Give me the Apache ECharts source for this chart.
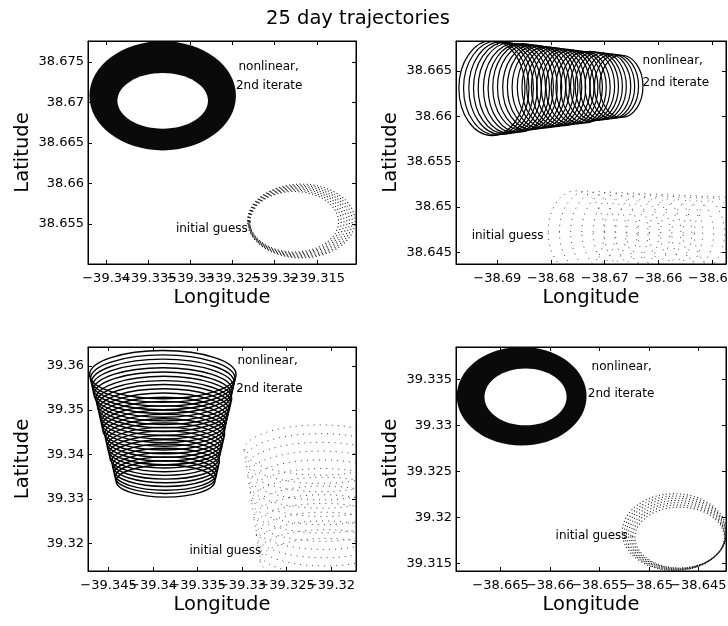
<!DOCTYPE html>
<html>
<head>
<meta charset="utf-8">
<script src="https://cdn.jsdelivr.net/npm/echarts@6/dist/echarts.min.js"></script>
<style>
  html, body { margin: 0; padding: 0; background: #fff; }
  #chart { width: 728px; height: 626px; }
</style>
</head>
<body>
<div id="chart"></div>
<script>
const FONT = '"DejaVu Sans", sans-serif';

// axis ranges [min, max] for the four panels
const p1XRange = [-39.34217, -39.31034];
const p1YRange = [38.65008, 38.67758];
const p2XRange = [-38.6977, -38.6474];
const p2YRange = [38.6437, 38.6683];
const p3XRange = [-39.34731, -39.31719];
const p3YRange = [39.31373, 39.36423];
const p4XRange = [-38.6695, -38.6422];
const p4YRange = [39.3142, 39.3385];

// tick labels
const p1XTicks = [-39.34, -39.335, -39.33, -39.325, -39.32, -39.315];
const p1YTicks = [38.655, 38.66, 38.665, 38.67, 38.675];
const p2XTicks = [-38.69, -38.68, -38.67, -38.66, -38.65];
const p2YTicks = [38.645, 38.65, 38.655, 38.66, 38.665];
const p3XTicks = [-39.345, -39.34, -39.335, -39.33, -39.325, -39.32];
const p3YTicks = [39.32, 39.33, 39.34, 39.35, 39.36];
const p4XTicks = [-38.665, -38.66, -38.655, -38.65, -38.645];
const p4YTicks = [39.315, 39.32, 39.325, 39.33, 39.335];

// nonlinear 2nd iterate: thick bands (outer ellipse, inner ellipse), [lon, lat, rLon, rLat]
const p1BandOuter = [-39.3333, 38.67082, 0.0087, 0.00673];
const p1BandInner = [-39.3333, 38.6702, 0.00538, 0.00344];
const p4BandOuter = [-38.66286, 39.33317, 0.00656, 0.00535];
const p4BandInner = [-38.66247, 39.33308, 0.00415, 0.00308];

// nonlinear 2nd iterate: single orbits, [lon, lat, rLon, rLat]
const p2Orbits = [
  [-38.6910, 38.6631, 0.00616, 0.00523], [-38.6902, 38.6631, 0.00609, 0.00517],
  [-38.6893, 38.6631, 0.00601, 0.00511], [-38.6885, 38.6631, 0.00594, 0.00504],
  [-38.6877, 38.6631, 0.00587, 0.00498], [-38.6868, 38.6631, 0.00579, 0.00492],
  [-38.6860, 38.6631, 0.00572, 0.00486], [-38.6852, 38.6632, 0.00565, 0.00480],
  [-38.6844, 38.6632, 0.00557, 0.00473], [-38.6835, 38.6632, 0.00550, 0.00467],
  [-38.6827, 38.6632, 0.00543, 0.00461], [-38.6819, 38.6632, 0.00535, 0.00455],
  [-38.6810, 38.6632, 0.00528, 0.00449], [-38.6802, 38.6632, 0.00521, 0.00442],
  [-38.6794, 38.6632, 0.00513, 0.00436], [-38.6786, 38.6632, 0.00506, 0.00430],
  [-38.6777, 38.6632, 0.00499, 0.00424], [-38.6769, 38.6632, 0.00491, 0.00418],
  [-38.6761, 38.6632, 0.00484, 0.00411], [-38.6752, 38.6632, 0.00477, 0.00405],
  [-38.6744, 38.6632, 0.00469, 0.00399], [-38.6736, 38.6632, 0.00462, 0.00393],
  [-38.6727, 38.6633, 0.00455, 0.00387], [-38.6719, 38.6633, 0.00447, 0.00380],
  [-38.6711, 38.6633, 0.00440, 0.00374], [-38.6703, 38.6633, 0.00433, 0.00368],
  [-38.6694, 38.6633, 0.00425, 0.00362], [-38.6686, 38.6633, 0.00418, 0.00356],
  [-38.6678, 38.6633, 0.00411, 0.00349], [-38.6669, 38.6633, 0.00403, 0.00343]
];
const p3Orbits = [
  [-39.3389, 39.3580, 0.00823, 0.00543], [-39.3389, 39.3571, 0.00813, 0.00536],
  [-39.3389, 39.3562, 0.00803, 0.00530], [-39.3389, 39.3553, 0.00793, 0.00523],
  [-39.3389, 39.3544, 0.00783, 0.00516], [-39.3389, 39.3535, 0.00773, 0.00510],
  [-39.3388, 39.3526, 0.00764, 0.00503], [-39.3388, 39.3517, 0.00754, 0.00496],
  [-39.3388, 39.3509, 0.00744, 0.00489], [-39.3388, 39.3500, 0.00734, 0.00483],
  [-39.3388, 39.3491, 0.00724, 0.00476], [-39.3388, 39.3482, 0.00714, 0.00469],
  [-39.3388, 39.3473, 0.00704, 0.00463], [-39.3388, 39.3464, 0.00694, 0.00456],
  [-39.3388, 39.3455, 0.00685, 0.00449], [-39.3387, 39.3446, 0.00675, 0.00443],
  [-39.3387, 39.3437, 0.00665, 0.00436], [-39.3387, 39.3428, 0.00655, 0.00429],
  [-39.3387, 39.3419, 0.00645, 0.00422], [-39.3387, 39.3411, 0.00635, 0.00416],
  [-39.3387, 39.3402, 0.00625, 0.00409], [-39.3387, 39.3393, 0.00615, 0.00402],
  [-39.3386, 39.3384, 0.00606, 0.00396], [-39.3386, 39.3375, 0.00596, 0.00389],
  [-39.3386, 39.3366, 0.00586, 0.00382], [-39.3386, 39.3357, 0.00576, 0.00375],
  [-39.3386, 39.3349, 0.00566, 0.00369], [-39.3386, 39.3340, 0.00556, 0.00362]
];

// initial guess: sparse (dotted) orbits, [lon, lat, rLon, rLat]
const p1Guess = [
  [-39.31767, 38.65529, 0.00525, 0.00373], [-39.31753, 38.65530, 0.00544, 0.00387],
  [-39.31739, 38.65532, 0.00563, 0.00400], [-39.31725, 38.65533, 0.00582, 0.00414],
  [-39.31711, 38.65535, 0.00600, 0.00428], [-39.31698, 38.65536, 0.00619, 0.00441],
  [-39.31684, 38.65538, 0.00638, 0.00455]
];
const p2Guess = [
  [-38.67531, 38.64727, 0.00523, 0.00451], [-38.67324, 38.64725, 0.00520, 0.00448],
  [-38.67118, 38.64724, 0.00517, 0.00444], [-38.66911, 38.64722, 0.00514, 0.00441],
  [-38.66704, 38.64720, 0.00511, 0.00437], [-38.66498, 38.64719, 0.00508, 0.00434],
  [-38.66291, 38.64717, 0.00506, 0.00431], [-38.66084, 38.64715, 0.00503, 0.00427],
  [-38.65877, 38.64713, 0.00500, 0.00424], [-38.65671, 38.64712, 0.00497, 0.00420],
  [-38.65464, 38.64710, 0.00494, 0.00417], [-38.65257, 38.64708, 0.00491, 0.00414],
  [-38.65051, 38.64707, 0.00488, 0.00410], [-38.64844, 38.64705, 0.00485, 0.00407]
];
const p3Guess = [
  [-39.32123, 39.34100, 0.00853, 0.00566], [-39.32119, 39.33909, 0.00844, 0.00561],
  [-39.32114, 39.33717, 0.00834, 0.00556], [-39.32110, 39.33526, 0.00825, 0.00550],
  [-39.32106, 39.33334, 0.00815, 0.00545], [-39.32101, 39.33143, 0.00806, 0.00540],
  [-39.32097, 39.32951, 0.00796, 0.00535], [-39.32093, 39.32760, 0.00787, 0.00529],
  [-39.32088, 39.32568, 0.00778, 0.00524], [-39.32084, 39.32377, 0.00768, 0.00519],
  [-39.32080, 39.32185, 0.00759, 0.00514], [-39.32075, 39.31994, 0.00749, 0.00508],
  [-39.32071, 39.31802, 0.00740, 0.00503], [-39.32067, 39.31611, 0.00730, 0.00498]
];
const p4Guess = [
  [-38.64689, 39.31783, 0.00452, 0.00330], [-38.64698, 39.31793, 0.00465, 0.00344],
  [-38.64706, 39.31802, 0.00477, 0.00359], [-38.64715, 39.31812, 0.00490, 0.00373],
  [-38.64724, 39.31822, 0.00503, 0.00388], [-38.64732, 39.31831, 0.00515, 0.00402],
  [-38.64741, 39.31841, 0.00528, 0.00417]
];

// annotations, [lon, lat] of the left end of each text
const noteTexts = ['nonlinear,', '2nd iterate', 'initial guess'];
const p1Notes = [[-39.3243, 38.6744], [-39.3246, 38.6720], [-39.33173, 38.65439]];
const p2Notes = [[-38.66294, 38.6661], [-38.66294, 38.66365], [-38.69478, 38.64676]];
const p3Notes = [[-39.33052, 39.3612], [-39.33066, 39.35486], [-39.33591, 39.3183]];
const p4Notes = [[-38.65579, 39.33635], [-38.65617, 39.33345], [-38.65943, 39.31804]];

const grids = [
  {left: 88, top: 41, width: 268, height: 223},
  {left: 456, top: 41, width: 270, height: 223},
  {left: 88, top: 347, width: 268, height: 224},
  {left: 456, top: 347, width: 270, height: 224}
];
const xRanges = [p1XRange, p2XRange, p3XRange, p4XRange];
const yRanges = [p1YRange, p2YRange, p3YRange, p4YRange];
const xTicks = [p1XTicks, p2XTicks, p3XTicks, p4XTicks];
const yTicks = [p1YTicks, p2YTicks, p3YTicks, p4YTicks];

const fmt = v => (v < 0 ? '\u2212' : '') + String(Number(Math.abs(v).toFixed(4)));

// kind: 'main' (line, ticks, labels, name), 'mirror' (ticks on the opposite side),
// 'alt' (x only: every other label, so echarts does not drop overlapping ones)
const makeAxis = (g, dim, kind) => {
  let range = dim === 'x' ? xRanges[g] : yRanges[g];
  let ticks = dim === 'x' ? xTicks[g] : yTicks[g];
  let labelValues = ticks;
  if (dim === 'x' && kind === 'main') labelValues = ticks.filter((d, i) => i % 2 === 0);
  if (dim === 'x' && kind === 'alt') labelValues = ticks.filter((d, i) => i % 2 === 1);
  let mirror = kind === 'mirror';
  let axis = {
    type: 'value',
    gridIndex: g,
    min: range[0],
    max: range[1],
    position: dim === 'x' ? (mirror ? 'top' : 'bottom') : (mirror ? 'right' : 'left'),
    axisLine: {show: kind !== 'alt', onZero: false, lineStyle: {color: '#000', width: 1}},
    axisTick: {show: kind !== 'alt', inside: true, length: 4, customValues: ticks, lineStyle: {color: '#000'}},
    axisLabel: {
      show: !mirror,
      customValues: labelValues,
      formatter: fmt,
      showMinLabel: true,
      showMaxLabel: true,
      hideOverlap: false,
      color: '#000',
      fontFamily: FONT,
      fontSize: 13,
      margin: dim === 'x' ? 8 : 4
    },
    splitLine: {show: false}
  };
  if (kind === 'main') {
    axis.name = dim === 'x' ? 'Longitude' : 'Latitude';
    axis.nameLocation = 'middle';
    axis.nameGap = dim === 'x' ? 24 : 55;
    axis.nameTextStyle = {color: '#000', fontFamily: FONT, fontSize: 19.5};
  }
  return axis;
};

const orbitSeries = (g, rows, stroke, width, dash) => ({
  type: 'custom',
  xAxisIndex: g * 3,
  yAxisIndex: g * 2,
  clip: true,
  silent: true,
  data: rows,
  renderItem: (params, api) => {
    let c = api.coord([api.value(0), api.value(1)]);
    let s = api.size([api.value(2), api.value(3)]);
    return {
      type: 'ellipse',
      shape: {cx: c[0], cy: c[1], rx: s[0], ry: s[1]},
      style: {fill: 'none', stroke: stroke, lineWidth: width, lineDash: dash}
    };
  }
});

const bandSeries = (g, outer, inner) => ({
  type: 'custom',
  xAxisIndex: g * 3,
  yAxisIndex: g * 2,
  clip: true,
  silent: true,
  data: [outer.concat(inner)],
  renderItem: (params, api) => {
    let co = api.coord([api.value(0), api.value(1)]);
    let so = api.size([api.value(2), api.value(3)]);
    let ci = api.coord([api.value(4), api.value(5)]);
    let si = api.size([api.value(6), api.value(7)]);
    return {
      type: 'group',
      children: [
        {type: 'ellipse', shape: {cx: co[0], cy: co[1], rx: so[0], ry: so[1]}, style: {fill: '#0a0a0a'}},
        {type: 'ellipse', shape: {cx: ci[0], cy: ci[1], rx: si[0], ry: si[1]}, style: {fill: '#fff'}}
      ]
    };
  }
});

const noteSeries = (g, rows) => ({
  type: 'custom',
  xAxisIndex: g * 3,
  yAxisIndex: g * 2,
  silent: true,
  z: 5,
  data: rows,
  renderItem: (params, api) => {
    let c = api.coord([api.value(0), api.value(1)]);
    return {
      type: 'text',
      x: c[0],
      y: c[1],
      style: {
        text: noteTexts[params.dataIndex],
        font: '12px ' + FONT,
        fill: '#000',
        align: 'left',
        verticalAlign: 'middle'
      }
    };
  }
});

let chart = echarts.init(document.getElementById('chart'), null, {renderer: 'canvas'});

let option = {
  backgroundColor: '#fff',
  animation: false,
  title: {
    text: '25 day trajectories',
    left: 353,
    top: 4,
    textAlign: 'center',
    textStyle: {color: '#000', fontFamily: FONT, fontSize: 19.5, fontWeight: 'normal'}
  },
  grid: grids.map(d => Object.assign({
    containLabel: false,
    outerBoundsMode: 'none',
    show: true,
    backgroundColor: '#fff',
    borderColor: '#000',
    borderWidth: 1
  }, d)),
  xAxis: [],
  yAxis: [],
  series: [
    bandSeries(0, p1BandOuter, p1BandInner),
    orbitSeries(0, p1Guess, '#111', 1.1, [1, 2.5]),
    noteSeries(0, p1Notes),
    orbitSeries(1, p2Orbits, '#000', 1.2, null),
    orbitSeries(1, p2Guess, '#444', 1, [1, 5]),
    noteSeries(1, p2Notes),
    orbitSeries(2, p3Orbits, '#000', 1.4, null),
    orbitSeries(2, p3Guess, '#444', 1, [1, 5]),
    noteSeries(2, p3Notes),
    bandSeries(3, p4BandOuter, p4BandInner),
    orbitSeries(3, p4Guess, '#111', 1.1, [1, 2.5]),
    noteSeries(3, p4Notes)
  ]
};

for (let g = 0; g < 4; g++) {
  option.xAxis.push(makeAxis(g, 'x', 'main'), makeAxis(g, 'x', 'mirror'), makeAxis(g, 'x', 'alt'));
  option.yAxis.push(makeAxis(g, 'y', 'main'), makeAxis(g, 'y', 'mirror'));
}

chart.setOption(option);
</script>
</body>
</html>
